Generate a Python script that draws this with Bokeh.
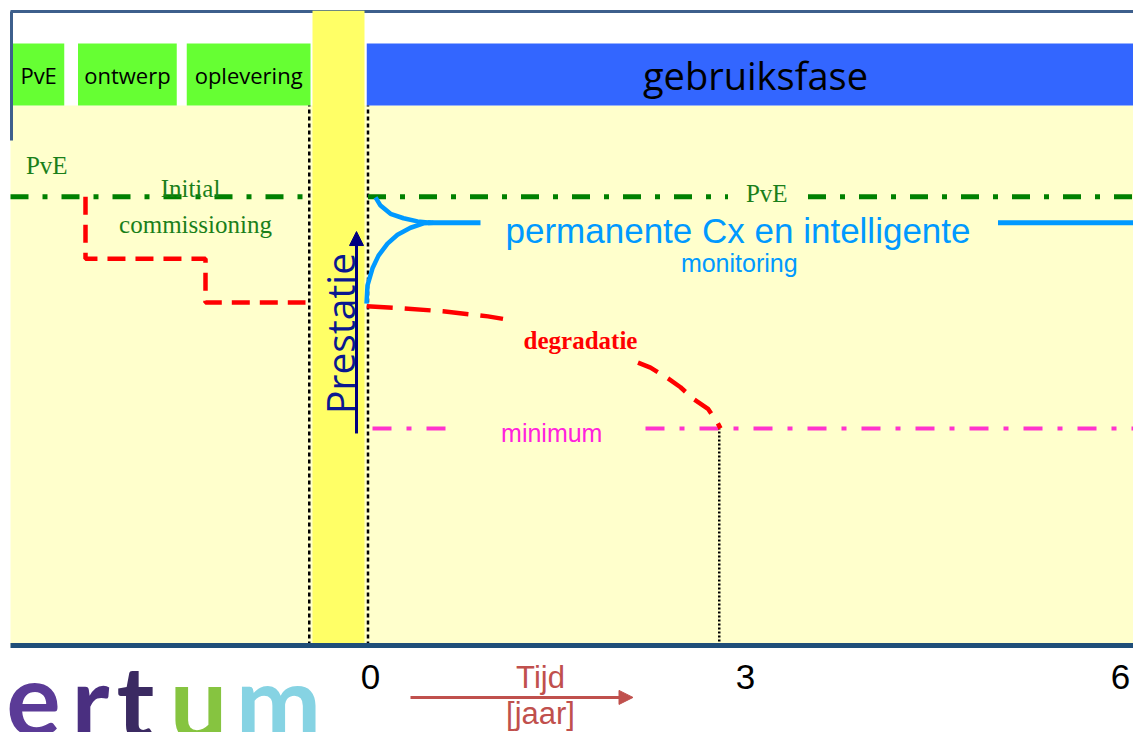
from math import pi
from bokeh.plotting import figure
from bokeh.models import Range1d, Arrow, NormalHead
from bokeh.embed import file_html
from bokeh.resources import INLINE
from bokeh.core.properties import value

# ---------------- data (x = time in years, y = performance %) ----------------
phase_labels = ["PvE", "ontwerp", "oplevering"]
phase_start = [-2.86, -2.34, -1.47]
phase_end = [-2.45, -1.55, -0.48]
use_label = ["gebruiksfase"]
use_start = [-0.03]
use_end = [6.2]
phase_bottom = 85.3
phase_top = 95.1

panel_left = -2.88
panel_right = 6.2
handover_start = -0.464
handover_end = -0.048
handover_marks = [-0.49, -0.02]

pve_level = 70.9
cx_level = 66.8
min_level = 34.3
end_of_life = 2.79

# initial commissioning (before handover)
step_x = [-2.28, -2.28, -1.32, -1.32, -0.52]
step_y = [70.9, 61.1, 61.1, 54.2, 54.2]

# degradation after handover (hidden behind its label between the two parts)
degr1_x = [-0.03, 0.24, 0.58, 0.94, 1.06]
degr1_y = [53.6, 53.3, 52.8, 52.0, 51.6]
degr2_x = [2.14, 2.24, 2.38, 2.48, 2.58, 2.70, 2.776, 2.80]
degr2_y = [44.7, 43.9, 42.2, 40.8, 39.0, 37.4, 35.2, 34.3]

# permanent Cx curves
cx_up_x = [0.04, 0.08, 0.16, 0.264, 0.376, 0.48]
cx_up_y = [70.8, 69.5, 68.2, 67.5, 67.0, 66.8]
cx_low_x = [-0.032, -0.024, 0.016, 0.064, 0.136, 0.216, 0.32, 0.424, 0.504]
cx_low_y = [54.0, 56.9, 59.6, 61.6, 63.5, 64.9, 66.0, 66.7, 66.8]
cx_seg_x = [[0.46, 0.88], [5.02, 6.2]]

pve_seg_x = [[-2.88, -0.52], [-0.02, 2.86], [3.5, 6.2]]
min_seg_x = [[0.016, 0.6], [2.2, 6.2]]

tick_values = [0, 3, 6]
tick_labels = ["0", "3", "6"]

logo_letters = ["e", "r", "t", "u", "m"]
logo_x = [-2.696, -2.24, -1.88, -1.376, -0.736]
logo_colors = ["#5b3b97", "#4a2f80", "#3b2a62", "#86c440", "#86d3e3"]

# ---------------- fonts / colors ----------------
SANS = value("Liberation Sans")
SERIF = value("Liberation Serif")
CAL = value("Open Sans")
GREEN = "#1a7f1a"
LINE_GREEN = "#008000"
RED = "#ff0000"
BLUE = "#0099ff"
MAG = "#ff33cc"
NAVY = "#0a1890"
BROWN = "#c0504d"

p = figure(width=1133, height=732,
           x_range=Range1d(-2.96, 6.104), y_range=Range1d(-13.74, 101.9),
           output_backend="svg", toolbar_location=None,
           x_axis_location=None, y_axis_location=None,
           min_border=0, outline_line_color=None,
           background_fill_color="white", border_fill_color="white")
p.grid.grid_line_color = None

# light yellow panel
p.quad(left=[panel_left], right=[panel_right], bottom=[0], top=[phase_bottom],
       fill_color="#ffffcc", line_color=None)
# frame border (top + left)
p.segment(x0=[panel_left], y0=[100.16], x1=[panel_right], y1=[100.16],
          line_color="#3d5f8c", line_width=3)
p.segment(x0=[panel_left + 0.008], y0=[100.16], x1=[panel_left + 0.008], y1=[79.8],
          line_color="#3d5f8c", line_width=3)

# phase boxes
p.quad(left=phase_start, right=phase_end, bottom=phase_bottom, top=phase_top,
       fill_color="#66ff33", line_color=None)
p.quad(left=use_start, right=use_end, bottom=phase_bottom, top=phase_top,
       fill_color="#3366ff", line_color=None)

# handover bar
p.quad(left=[handover_start], right=[handover_end], bottom=[0], top=[100.3],
       fill_color="#ffff66", line_color=None)
p.segment(x0=handover_marks, y0=[0, 0], x1=handover_marks, y1=[phase_bottom] * 2,
          line_color="black", line_width=2.5, line_dash="4 3")

# phase labels
p.text(x=[(a + b) / 2 for a, b in zip(phase_start, phase_end)],
       y=[(phase_bottom + phase_top) / 2] * 3, text=phase_labels,
       text_font=CAL, text_font_size="22px", text_color="black",
       text_align="center", text_baseline="middle")
p.text(x=[3.08], y=[(phase_bottom + phase_top) / 2], text=use_label,
       text_font=CAL, text_font_size="38px", text_color="black",
       text_align="center", text_baseline="middle")

# PvE level
p.multi_line(xs=pve_seg_x, ys=[[pve_level] * 2] * 3, line_color=LINE_GREEN,
             line_width=5, line_dash="18 14 5 14")
p.text(x=[-2.59, 3.17], y=[75.8, 71.4], text=["PvE", "PvE"], text_font=SERIF,
       text_font_size="25px", text_color=GREEN, text_align="center", text_baseline="middle")
p.text(x=[-1.44, -1.40], y=[72.2, 66.5], text=["Initial", "commissioning"], text_font=SERIF,
       text_font_size="25px", text_color=GREEN, text_align="center", text_baseline="middle")

# minimum level
p.multi_line(xs=min_seg_x, ys=[[min_level] * 2] * 2, line_color=MAG,
             line_width=4, line_dash="19 15 5 15")
p.text(x=[1.45], y=[33.6], text=["minimum"], text_font=SANS, text_font_size="25px",
       text_color="#ff22dd", text_align="center", text_baseline="middle")

# end-of-life vertical
p.segment(x0=[end_of_life], y0=[0], x1=[end_of_life], y1=[min_level],
          line_color="black", line_width=2.5, line_dash="2 2")

# initial commissioning steps
p.line(step_x, step_y, line_color=RED, line_width=4.5, line_dash="18 10")

# degradation
p.line(degr1_x, degr1_y, line_color=RED, line_width=4.5, line_dash="26 12")
p.line(degr2_x, degr2_y, line_color=RED, line_width=4.5, line_dash="22 12")
p.text(x=[1.68], y=[48.2], text=["degradatie"], text_font=SERIF, text_font_style="bold",
       text_font_size="25px", text_color=RED, text_align="center", text_baseline="middle")

# permanent Cx
p.line(cx_up_x, cx_up_y, line_color=BLUE, line_width=4.5)
p.line(cx_low_x, cx_low_y, line_color=BLUE, line_width=4.5)
p.multi_line(xs=cx_seg_x, ys=[[cx_level] * 2] * 2, line_color=BLUE, line_width=5)
p.text(x=[2.94], y=[65.6], text=["permanente Cx en intelligente"], text_font=SANS,
       text_font_size="35px", text_color=BLUE, text_align="center", text_baseline="middle")
p.text(x=[2.95], y=[60.4], text=["monitoring"], text_font=SANS,
       text_font_size="25px", text_color=BLUE, text_align="center", text_baseline="middle")

# Prestatie axis arrow
p.text(x=[-0.25], y=[49.3], text=["Prestatie"], angle=pi / 2, text_font=CAL,
       text_font_size="39px", text_color=NAVY, text_align="center", text_baseline="middle")
p.add_layout(Arrow(end=NormalHead(size=14, fill_color="#000080", line_color="#000080"),
                   x_start=-0.112, y_start=33.5, x_end=-0.112, y_end=65.4,
                   line_color="#000080", line_width=3))

# bottom time axis
p.segment(x0=[panel_left], y0=[0], x1=[panel_right], y1=[0],
          line_color="#1f4e79", line_width=5)
p.text(x=tick_values, y=[-5.0] * 3, text=tick_labels, text_font=SANS,
       text_font_size="35px", text_color="black", text_align="center", text_baseline="middle")
p.text(x=[1.36, 1.36], y=[-5.1, -10.7], text=["Tijd", "[jaar]"], text_font=SANS,
       text_font_size="31px", text_color=BROWN, text_align="center", text_baseline="middle")
p.add_layout(Arrow(end=NormalHead(size=14, fill_color=BROWN, line_color=BROWN),
                   x_start=0.32, y_start=-8.2, x_end=2.1, y_end=-8.2,
                   line_color=BROWN, line_width=3))

# logo fragment
p.text(x=logo_x, y=[-8.45] * 5, text=logo_letters, text_font=value("Lato"),
       text_font_style="bold", text_font_size="102px", text_color=logo_colors,
       text_align="center", text_baseline="middle")

open("out.html", "w").write(file_html(p, INLINE))
